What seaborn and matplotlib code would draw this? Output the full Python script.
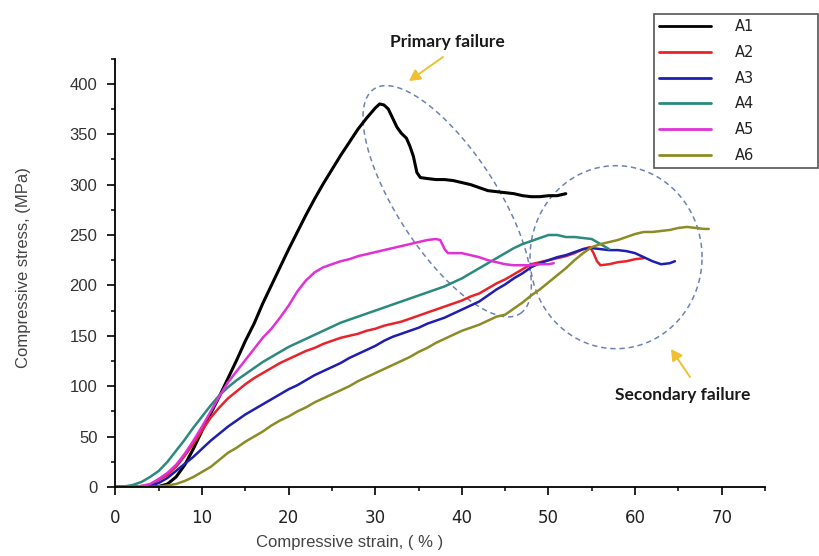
import numpy as np
import pandas as pd
import matplotlib
matplotlib.use("Agg")
import matplotlib.pyplot as plt
import seaborn as sns
from matplotlib.ticker import MultipleLocator
from matplotlib.lines import Line2D
from matplotlib.patches import Polygon, FancyArrowPatch

# ---------------- data ----------------
samples = ["A1", "A2", "A3", "A4", "A5", "A6"]
colors = ["#000000", "#e8232a", "#1e1eb0", "#2a8a7e", "#e030d8", "#8c8c26"]

a1_strain = [0, 3, 5, 6, 7, 8, 9, 10, 11, 12, 13, 14, 15, 16, 17, 18, 19, 20, 21, 22, 23, 24, 25,
             26, 27, 28, 29, 30, 30.5, 31, 31.5, 32, 32.5, 33, 33.6, 34, 34.4, 34.8, 35.2, 36, 37,
             38, 39, 40, 41, 42, 43, 44, 45, 46, 47, 48, 49, 50, 51, 52]
a1_stress = [0, 0, 0.5, 3, 10, 22, 38, 56, 73, 90, 108, 126, 145, 162, 182, 200, 218, 236, 253, 270,
             286, 301, 315, 329, 342, 355, 366, 376, 380, 379, 375, 366, 357, 351, 346, 338, 328, 312,
             307, 306, 305, 305, 304, 302, 300, 297, 294, 293, 292, 291, 289, 288, 288, 289, 289, 291]

a2_strain = [0, 2, 3, 4, 5, 6, 7, 8, 9, 10, 11, 12, 13, 14, 15, 16, 17, 18, 19, 20, 21, 22, 23, 24,
             25, 26, 27, 28, 29, 30, 31, 32, 33, 34, 35, 36, 37, 38, 39, 40, 41, 42, 43, 44, 45, 46,
             47, 48, 49, 50, 51, 52, 53, 54, 54.8, 55.2, 55.6, 56, 57, 58, 59, 60, 61]
a2_stress = [0, 0, 1, 2, 7, 12, 20, 31, 43, 56, 69, 79, 88, 95, 102, 108, 113, 118, 123, 127, 131,
             135, 138, 142, 145, 148, 150, 152, 155, 157, 160, 162, 164, 167, 170, 173, 176, 179, 182,
             185, 189, 192, 197, 202, 206, 211, 216, 221, 223, 225, 227, 229, 232, 236, 238, 232, 224,
             220, 221, 223, 224, 226, 227]

a3_strain = [0, 3, 4, 5, 6, 7, 8, 9, 10, 11, 12, 13, 14, 15, 16, 17, 18, 19, 20, 21, 22, 23, 24, 25,
             26, 27, 28, 29, 30, 31, 32, 33, 34, 35, 36, 37, 38, 39, 40, 41, 42, 43, 44, 45, 46, 47,
             48, 49, 50, 51, 52, 53, 54, 55, 56, 57, 58, 59, 60, 61, 62, 63, 64, 64.6]
a3_stress = [0, 0, 1, 4, 9, 16, 23, 30, 38, 46, 53, 60, 66, 72, 77, 82, 87, 92, 97, 101, 106, 111,
             115, 119, 123, 128, 132, 136, 140, 145, 149, 152, 155, 158, 162, 165, 168, 172, 176, 180,
             184, 190, 196, 201, 207, 212, 218, 222, 225, 228, 230, 233, 236, 237, 236, 235, 235, 234,
             232, 228, 224, 221, 222, 224]

a4_strain = [0, 1, 2, 3, 4, 5, 6, 7, 8, 9, 10, 11, 12, 13, 14, 15, 16, 17, 18, 19, 20, 21, 22, 23,
             24, 25, 26, 27, 28, 29, 30, 31, 32, 33, 34, 35, 36, 37, 38, 39, 40, 41, 42, 43, 44, 45,
             46, 47, 48, 49, 50, 51, 52, 53, 54, 55, 56, 57]
a4_stress = [0, 0.5, 2, 5, 10, 16, 25, 36, 47, 59, 70, 81, 91, 99, 106, 112, 118, 124, 129, 134, 139,
             143, 147, 151, 155, 159, 163, 166, 169, 172, 175, 178, 181, 184, 187, 190, 193, 196, 199,
             203, 207, 212, 217, 222, 227, 232, 237, 241, 244, 247, 250, 250, 248, 248, 247, 246, 241,
             236]

a5_strain = [0, 2, 3, 4, 5, 6, 7, 8, 9, 10, 11, 12, 13, 14, 15, 16, 17, 18, 19, 20, 21, 22, 23, 24,
             25, 26, 27, 28, 29, 30, 31, 32, 33, 34, 35, 36, 37, 37.5, 38, 38.4, 39, 40, 41, 42, 43,
             44, 45, 46, 47, 48, 49, 50, 50.6]
a5_stress = [0, 0, 1, 3, 8, 14, 22, 33, 46, 60, 75, 90, 104, 115, 126, 137, 148, 157, 168, 180, 194,
             205, 213, 218, 221, 224, 226, 229, 231, 233, 235, 237, 239, 241, 243, 245, 246, 245, 236,
             232, 232, 232, 230, 228, 225, 223, 221, 220, 220, 220, 221, 221, 222]

a6_strain = [0, 4, 5, 6, 7, 8, 9, 10, 11, 12, 13, 14, 15, 16, 17, 18, 19, 20, 21, 22, 23, 24, 25, 26,
             27, 28, 29, 30, 31, 32, 33, 34, 35, 36, 37, 38, 39, 40, 41, 42, 43, 44, 45, 46, 47, 48,
             49, 50, 51, 52, 53, 54, 55, 56, 57, 58, 59, 60, 61, 62, 63, 64, 65, 66, 67, 68, 68.5]
a6_stress = [0, 0, 0.5, 1.5, 3, 6, 10, 15, 20, 27, 34, 39, 45, 50, 55, 61, 66, 70, 75, 79, 84, 88, 92,
             96, 100, 105, 109, 113, 117, 121, 125, 129, 134, 138, 143, 147, 151, 155, 158, 161, 165,
             169, 171, 177, 183, 190, 196, 203, 210, 217, 225, 232, 238, 241, 243, 245, 248, 251, 253,
             253, 254, 255, 257, 258, 257, 256, 256]

strains = [a1_strain, a2_strain, a3_strain, a4_strain, a5_strain, a6_strain]
stresses = [a1_stress, a2_stress, a3_stress, a4_stress, a5_stress, a6_stress]

x_ticks = [0, 10, 20, 30, 40, 50, 60, 70]
y_ticks = [0, 50, 100, 150, 200, 250, 300, 350, 400]

# ---------------- figure ----------------
sns.set_theme(style="white")
plt.rcParams['font.family'] = ['Liberation Sans', 'DejaVu Sans']

W, H = 820, 556
fig = plt.figure(figsize=(W / 100, H / 100), dpi=100)
ax_left, ax_bottom, ax_w, ax_h = 115.5, 487.0, 649.5, 428.4
ax = fig.add_axes([ax_left / W, (H - ax_bottom) / H, ax_w / W, ax_h / H])

df = pd.concat([pd.DataFrame({"strain": s, "stress": t, "sample": n})
                for s, t, n in zip(strains, stresses, samples)], ignore_index=True)

sns.lineplot(data=df, x="strain", y="stress", hue="sample", hue_order=samples,
             palette=colors, sort=False, estimator=None, linewidth=1.8,
             legend=False, ax=ax)
for ln, c in zip(ax.lines, colors):
    if c == "#000000":
        ln.set_linewidth(2.2)

ax.set_xlim(0, 75)
ax.set_ylim(0, 425)
ax.set_xticks(x_ticks)
ax.set_yticks(y_ticks)
ax.xaxis.set_minor_locator(MultipleLocator(5))
ax.yaxis.set_minor_locator(MultipleLocator(25))
ax.tick_params(axis="both", which="major", direction="out", length=6, width=1.2,
               color="black", bottom=True, left=True)
ax.tick_params(axis="both", which="minor", direction="out", length=3.2, width=1.1,
               color="black", bottom=True, left=True)
ax.tick_params(axis="x", which="major", pad=10)
ax.tick_params(axis="y", which="major", pad=7)
for lab in ax.get_xticklabels():
    lab.set_fontfamily("DejaVu Sans")
    lab.set_fontsize(12)
    lab.set_color("#222222")
for lab in ax.get_yticklabels():
    lab.set_fontfamily("Liberation Sans")
    lab.set_fontsize(12)
    lab.set_color("#333333")

for side in ["top", "right"]:
    ax.spines[side].set_visible(False)
for side in ["left", "bottom"]:
    ax.spines[side].set_visible(True)
    ax.spines[side].set_color("black")
    ax.spines[side].set_linewidth(1.3)
ax.grid(False)

ax.set_xlabel("Compressive strain, ( % )", fontsize=12, color="#444444")
ax.set_ylabel("Compressive stress, (MPa)", fontsize=12, color="#444444")
ax.xaxis.set_label_coords(0.36, -0.112)
ax.yaxis.set_label_coords(-0.130, 0.512)

# ---------------- dashed ellipses (annotation shapes) ----------------
sx = ax_w / 75.0   # pixels per strain unit
sy = ax_h / 425.0  # pixels per stress unit


def dashed_ellipse(cx, cy, a_px, b_px, ang_deg):
    t = np.linspace(0, 2 * np.pi, 200)
    th = np.deg2rad(ang_deg)
    dx = a_px * np.cos(t) * np.cos(th) - b_px * np.sin(t) * np.sin(th)
    dy = a_px * np.cos(t) * np.sin(th) + b_px * np.sin(t) * np.cos(th)
    pts = np.column_stack([cx + dx / sx, cy + dy / sy])
    ax.add_patch(Polygon(pts, closed=True, fill=False, edgecolor="#6f82b4",
                         linewidth=1.1, linestyle=(0, (3.5, 2.5)), clip_on=False))


dashed_ellipse(38.3, 283.5, 134, 50, -57.0)
dashed_ellipse(57.8, 228.0, 86, 91.5, 0)

# ---------------- annotations ----------------
fig.text(447 / W, (H - 42) / H, "Primary failure", fontsize=12.5, fontweight="bold",
         family="Lato", ha="center", va="center", color="#1a1a1a")
fig.text(683 / W, (H - 395) / H, "Secondary failure", fontsize=12.5, fontweight="bold",
         family="Lato", ha="center", va="center", color="#1a1a1a")
arrow_kw = dict(arrowstyle="-|>,head_length=0.55,head_width=0.3", color="#f0c030",
                lw=1.4, mutation_scale=12, shrinkA=0, shrinkB=0)
fig.add_artist(FancyArrowPatch((443 / W, (H - 57) / H), (409 / W, (H - 81) / H),
                               transform=fig.transFigure, **arrow_kw))
fig.add_artist(FancyArrowPatch((690 / W, (H - 377) / H), (671 / W, (H - 349) / H),
                               transform=fig.transFigure, **arrow_kw))

# ---------------- legend ----------------
handles = [Line2D([0], [0], color=c, lw=2.0) for c in colors]
leg = ax.legend(handles, samples, loc="upper left",
                bbox_to_anchor=(654 / W, (H - 168) / H, 164 / W, 154 / H),
                bbox_transform=fig.transFigure, mode="expand", frameon=True,
                fancybox=False, framealpha=1, edgecolor="#555555",
                prop={"family": "DejaVu Sans", "size": 10.5},
                handlelength=3.56, handletextpad=1.64, labelspacing=0.74,
                borderpad=0.35, borderaxespad=0)
leg.get_frame().set_linewidth(1.2)
for t in leg.get_texts():
    t.set_color("#222222")

fig.savefig("out.png", dpi=100)
